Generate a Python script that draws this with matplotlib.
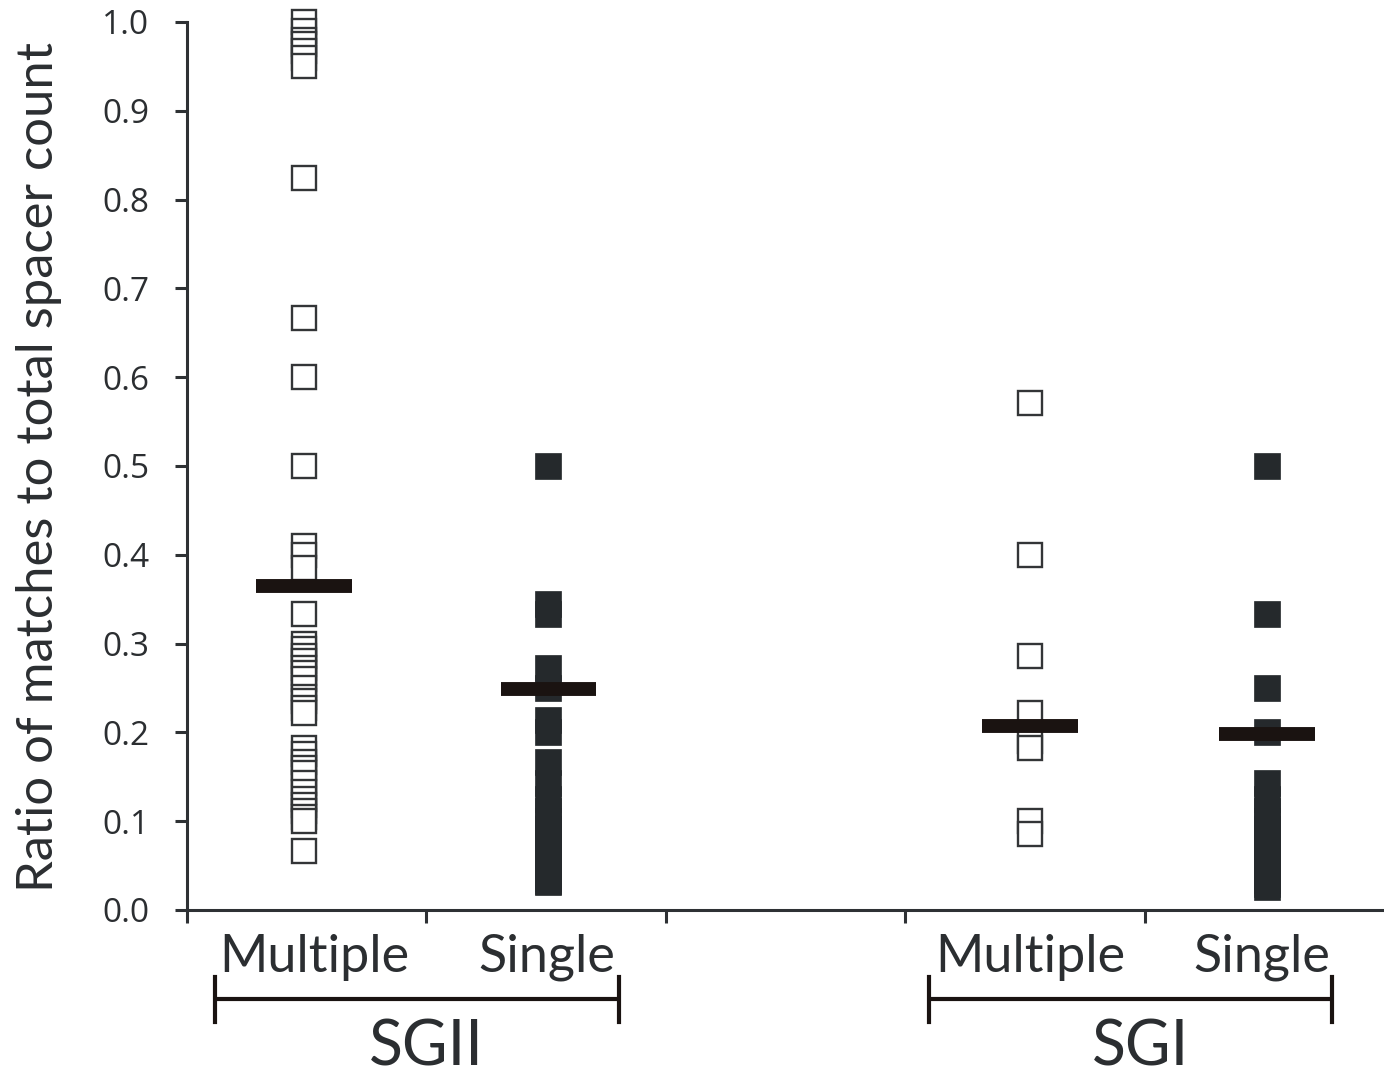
import numpy as np
import matplotlib
matplotlib.use("Agg")
import matplotlib.pyplot as plt
from matplotlib.transforms import blended_transform_factory

# ratio of matches to total spacer count
sgii_multiple = [1.0, 0.99, 0.98, 0.975, 0.967, 0.96, 0.95, 0.824, 0.667, 0.6, 0.5,
                 0.41, 0.4, 0.385, 0.333,
                 0.3, 0.294, 0.286, 0.28, 0.273, 0.267, 0.26, 0.25, 0.24, 0.235, 0.227, 0.222,
                 0.182, 0.176, 0.167, 0.16, 0.154, 0.143, 0.133, 0.125, 0.118, 0.111, 0.105, 0.1,
                 0.067]
sgii_single = [0.5, 0.345, 0.333, 0.273, 0.25, 0.214, 0.2,
               0.167, 0.143, 0.125, 0.111, 0.1, 0.091, 0.083, 0.077, 0.071, 0.067, 0.0625,
               0.059, 0.056, 0.05, 0.045, 0.04, 0.036, 0.033, 0.031]
sgi_multiple = [0.571, 0.4, 0.286, 0.222, 0.19, 0.182, 0.1, 0.086]
sgi_single = [0.5, 0.333, 0.25, 0.2,
              0.143, 0.125, 0.111, 0.1, 0.091, 0.083, 0.077, 0.071, 0.0625, 0.056, 0.05,
              0.045, 0.04, 0.034, 0.029, 0.026]
means = [0.365, 0.249, 0.207, 0.198]
positions = [0.49, 1.51, 3.52, 4.51]
label_pos = [0.533, 1.504, 3.521, 4.488]
categories = ["Multiple", "Single", "Multiple", "Single"]
groups = ["SGII", "SGI"]

dark = "#25292c"
bar_col = "#1a1311"
text_col = "#2b2e31"

fig = plt.figure(figsize=(13.84, 10.78), dpi=100)
ax = fig.add_axes([187 / 1384, 1 - 910 / 1078, 1 - 187 / 1384, 888 / 1078])

open_kw = dict(marker="s", ms=17.5, mfc="white", mec="#333537", mew=1.7, ls="none", clip_on=False)
fill_kw = dict(marker="s", ms=18.5, mfc=dark, mec=dark, mew=0.5, ls="none", clip_on=False)

ax.plot([positions[0]] * len(sgii_multiple), sgii_multiple, **open_kw)
ax.plot([positions[1]] * len(sgii_single), sgii_single, **fill_kw)
ax.plot([positions[2]] * len(sgi_multiple), sgi_multiple, **open_kw)
ax.plot([positions[3]] * len(sgi_single), sgi_single, **fill_kw)

# mean bars
for p, m in zip(positions, means):
    ax.hlines(m, p - 0.2, p + 0.2, color=bar_col, lw=10, capstyle="butt", zorder=5)

ax.set_xlim(0, 5)
ax.set_ylim(0, 1.0)
ax.set_xticks([0, 1, 2, 3, 4])
ax.set_xticklabels([])
ax.set_yticks(np.arange(0, 1.01, 0.1))
ax.set_yticklabels(["%.1f" % v for v in np.arange(0, 1.01, 0.1)])

for s in ["top", "right"]:
    ax.spines[s].set_visible(False)
for s in ["left", "bottom"]:
    ax.spines[s].set_linewidth(2.2)
    ax.spines[s].set_color("#2e3134")
ax.tick_params(axis="y", direction="out", length=9, width=2.2, color="#2e3134",
               pad=18, labelsize=24, labelcolor=text_col)
ax.tick_params(axis="x", direction="out", length=9, width=2.2, color="#2e3134")
for lab in ax.get_yticklabels():
    lab.set_fontfamily("Open Sans")

fig.text(39 / 1384, 1 - 467 / 1078, "Ratio of matches to total spacer count", rotation=90,
         ha="center", va="center", fontsize=36.5, family="Lato", color=text_col)

tr = blended_transform_factory(ax.transData, ax.transAxes)
for p, c in zip(label_pos, categories):
    ax.text(p, -0.0698, c, transform=tr, ha="center", va="baseline",
            fontsize=37.5, family="Lato", color=text_col)

brackets = [(0.117, 1.804), (3.1, 4.783)]
for (x0, x1), g in zip(brackets, groups):
    ax.plot([x0, x1], [-0.100, -0.100], transform=tr, color=bar_col, lw=3, clip_on=False,
            solid_capstyle="butt")
    for xx in (x0, x1):
        ax.plot([xx, xx], [-0.0755, -0.126], transform=tr, color=bar_col, lw=3, clip_on=False)
    ax.text((x0 + x1) / 2 + 0.04, -0.1875, g, transform=tr, ha="center", va="bottom",
            fontsize=45, family="Lato", color=text_col)

fig.savefig("out.png", dpi=100)
